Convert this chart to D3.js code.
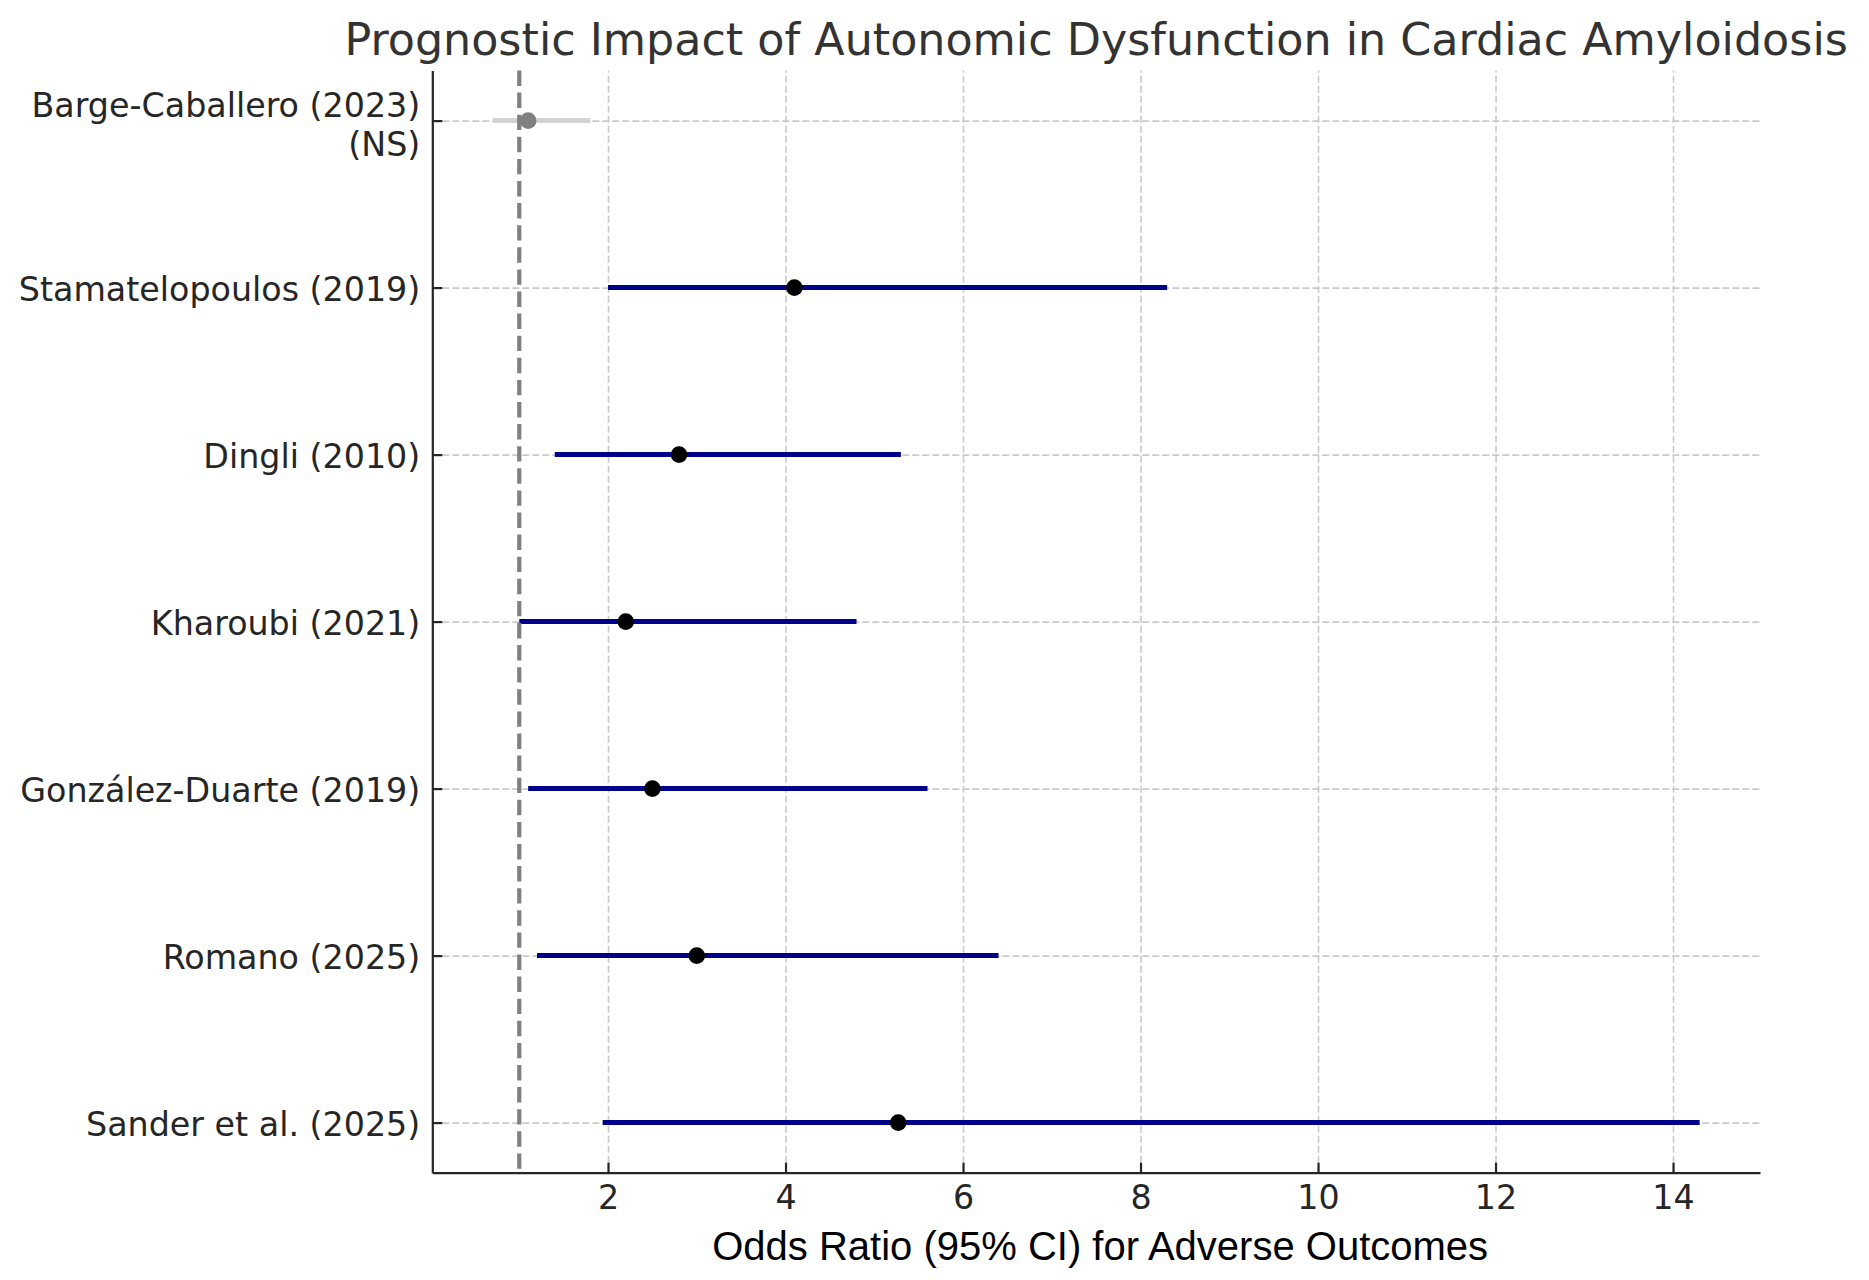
<!DOCTYPE html>
<html>
<head>
<meta charset="utf-8">
<script src="https://cdn.jsdelivr.net/npm/d3@7"></script>
<style>
  body { margin: 0; background: #fff; }
  svg { display: block; }
  .tick text { font-family: "DejaVu Sans", sans-serif; font-size: 33.3px; fill: #262626; }
  .axis .domain, .axis .tick line { stroke: #262626; stroke-width: 2.2px; }
  .grid .domain { display: none; }
  .grid .tick line { stroke: #cacaca; stroke-width: 1.6px; stroke-dasharray: 7,3; }
</style>
</head>
<body>
<div id="chart"></div>
<script>
// study labels, bottom row first
var studies = ["Sander et al. (2025)", "Romano (2025)", "González-Duarte (2019)",
               "Kharoubi (2021)", "Dingli (2010)", "Stamatelopoulos (2019)",
               "Barge-Caballero (2023)\n(NS)"];
var oddsRatio = [5.27, 3.0, 2.5, 2.2, 2.8, 4.1, 1.1];
var ciLow = [1.94, 1.2, 1.1, 1.0, 1.4, 2.0, 0.7];
var ciHigh = [14.3, 6.4, 5.6, 4.8, 5.3, 8.3, 1.8];
var significant = [true, true, true, true, true, true, false];
var xTicks = [2, 4, 6, 8, 10, 12, 14];
var refLine = 1;

var rows = studies.map(function (s, i) {
    return { name: s, pos: i, or: oddsRatio[i], lo: ciLow[i], hi: ciHigh[i], sig: significant[i] };
});

var W = 1869, H = 1280;
var margin = { top: 70.5, right: 109, bottom: 107.3, left: 432.3 };
var width = W - margin.left - margin.right,
    height = H - margin.top - margin.bottom;

var svg = d3.select("#chart").append("svg")
    .attr("width", W)
    .attr("height", H);

var chart = svg.append("g")
    .attr("transform", "translate(" + margin.left + "," + margin.top + ")");

// matplotlib style 5% padding
var xmin = d3.min(ciLow), xmax = d3.max(ciHigh), pad = (xmax - xmin) * 0.05;
var xScale = d3.scaleLinear()
    .domain([xmin - pad, xmax + pad])
    .range([0, width]);

var yScale = d3.scaleLinear()
    .domain([-0.3, studies.length - 1 + 0.3])
    .range([height, 0]);

// grid
chart.append("g")
    .attr("class", "grid")
    .attr("transform", "translate(0," + height + ")")
    .call(d3.axisBottom(xScale).tickValues(xTicks).tickSize(-height).tickFormat(""));

chart.append("g")
    .attr("class", "grid")
    .call(d3.axisLeft(yScale).tickValues(rows.map(function (d) { return d.pos; }))
        .tickSize(-width).tickFormat(""));

// confidence intervals
chart.selectAll(".ci")
    .data(rows)
    .enter()
    .append("line")
    .attr("class", "ci")
    .attr("x1", function (d) { return xScale(d.lo); })
    .attr("x2", function (d) { return xScale(d.hi); })
    .attr("y1", function (d) { return yScale(d.pos); })
    .attr("y2", function (d) { return yScale(d.pos); })
    .attr("stroke", function (d) { return d.sig ? "#00008b" : "#d3d3d3"; })
    .attr("stroke-width", 5);

// reference line at OR = 1
chart.append("line")
    .attr("x1", xScale(refLine))
    .attr("x2", xScale(refLine))
    .attr("y1", 0)
    .attr("y2", height)
    .attr("stroke", "#808080")
    .attr("stroke-width", 4.2)
    .attr("stroke-dasharray", "15.4,6.7");

// point estimates
chart.selectAll(".pt")
    .data(rows)
    .enter()
    .append("circle")
    .attr("class", "pt")
    .attr("cx", function (d) { return xScale(d.or); })
    .attr("cy", function (d) { return yScale(d.pos); })
    .attr("r", 8.3)
    .attr("fill", function (d) { return d.sig ? "#000" : "#808080"; });

// axes
chart.append("g")
    .attr("class", "axis x")
    .attr("transform", "translate(0," + height + ")")
    .call(d3.axisBottom(xScale).tickValues(xTicks).tickSizeInner(-10).tickSizeOuter(0)
        .tickPadding(12.7).tickFormat(d3.format("d")));

var yAxis = chart.append("g")
    .attr("class", "axis y")
    .call(d3.axisLeft(yScale).tickValues(rows.map(function (d) { return d.pos; }))
        .tickSizeInner(-10).tickSizeOuter(0).tickPadding(12)
        .tickFormat(function (p) { return studies[p]; }));

yAxis.selectAll(".tick text")
    .attr("dy", null)
    .each(function (p) {
        var lines = studies[p].split("\n");
        var t = d3.select(this).text(null);
        var x = t.attr("x");
        var first = lines.length > 1 ? -4 : 13;
        lines.forEach(function (l, i) {
            t.append("tspan")
                .attr("x", x)
                .attr("y", first + i * 39)
                .text(l);
        });
    });

// title and axis label
svg.append("text")
    .attr("x", margin.left + width / 2)
    .attr("y", 55)
    .attr("text-anchor", "middle")
    .style("font-family", "'DejaVu Sans', sans-serif")
    .style("font-size", "44.4px")
    .style("fill", "#333")
    .text("Prognostic Impact of Autonomic Dysfunction in Cardiac Amyloidosis");

svg.append("text")
    .attr("x", margin.left + width / 2 + 4)
    .attr("y", 1260)
    .attr("text-anchor", "middle")
    .style("font-family", "'Liberation Sans', Arial, sans-serif")
    .style("font-size", "40px")
    .style("fill", "#000")
    .text("Odds Ratio (95% CI) for Adverse Outcomes");
</script>
</body>
</html>
